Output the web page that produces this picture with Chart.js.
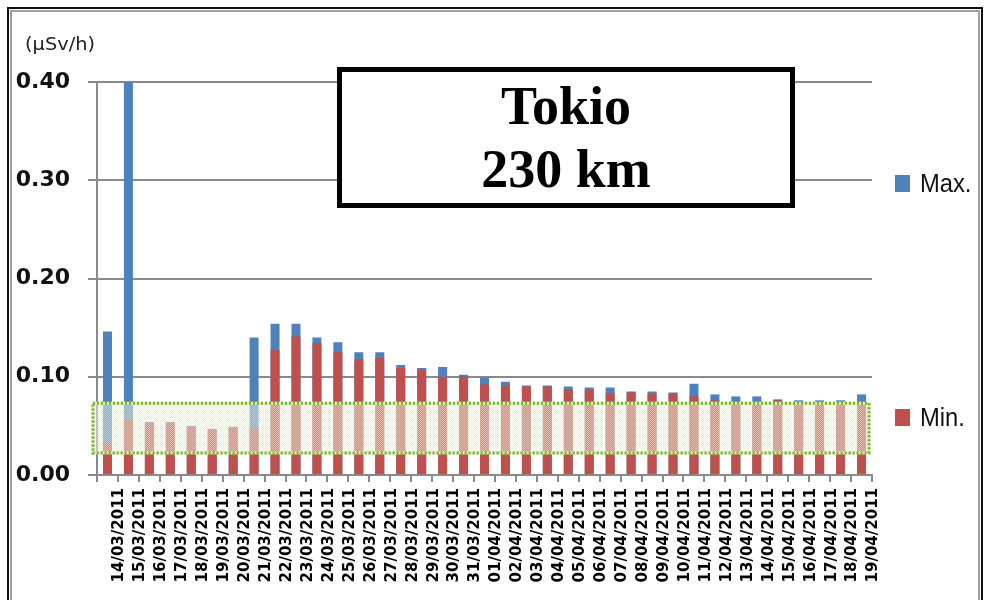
<!DOCTYPE html>
<html>
<head>
<meta charset="utf-8">
<script src="https://cdn.jsdelivr.net/npm/chart.js@4/dist/chart.umd.min.js"></script>
<style>
  html, body { margin: 0; padding: 0; background: #ffffff; }
  #wrap { position: relative; width: 986px; height: 600px; overflow: hidden; background: #ffffff; }
  #frame { position: absolute; left: 7px; top: 7px; width: 972px; height: 620px;
           border: 2px solid #111; border-bottom: none; }
  #frame2 { position: absolute; left: 10px; top: 10px; width: 966px; height: 620px;
            border: 2px solid #a0a0a0; border-bottom: none; }
  canvas { position: absolute; left: 0; top: 0; }
  #unit { position: absolute; left: 25px; top: 34px; font: 17px "DejaVu Sans", sans-serif; color: #222;
          transform: scaleX(1.14); transform-origin: left top; }
  #title { position: absolute; left: 337px; top: 67px; width: 448px;
           border: 5px solid #000; background: #fff; box-sizing: content-box;
           font: bold 54px "Liberation Serif", "Times New Roman", serif; color: #000;
           text-align: center; line-height: 63px; padding-top: 3px; height: 128px; }
  .leg { position: absolute; left: 895px; font: 25px "Liberation Sans", Arial, sans-serif; color: #111; }
  .leg i { position: absolute; left: 0; width: 15px; height: 17px; }
  .leg span { position: absolute; left: 25px; white-space: nowrap; transform: scaleX(0.95); transform-origin: left center; }
</style>
</head>
<body>
<div id="wrap">
  <div id="frame"></div>
  <div id="frame2"></div>
  <canvas id="c" width="986" height="600"></canvas>
  <div id="unit">(µSv/h)</div>
  <div id="title">Tokio<br>230 km</div>
  <div class="leg" style="top:175px"><i style="background:#4f81bd;top:0"></i><span style="top:-6px">Max.</span></div>
  <div class="leg" style="top:409px"><i style="background:#c0504d;top:0"></i><span style="top:-6px">Min.</span></div>
</div>
<script>
// Daily readings, 14 March – 19 April 2011
const dates = [
  "14/03/2011","15/03/2011","16/03/2011","17/03/2011","18/03/2011","19/03/2011",
  "20/03/2011","21/03/2011","22/03/2011","23/03/2011","24/03/2011","25/03/2011",
  "26/03/2011","27/03/2011","28/03/2011","29/03/2011","30/03/2011","31/03/2011",
  "01/04/2011","02/04/2011","03/04/2011","04/04/2011","05/04/2011","06/04/2011",
  "07/04/2011","08/04/2011","09/04/2011","10/04/2011","11/04/2011","12/04/2011",
  "13/04/2011","14/04/2011","15/04/2011","16/04/2011","17/04/2011","18/04/2011",
  "19/04/2011"
];

// Daily maximum dose rate (µSv/h)
const maxValues = [
  0.146, 0.400, 0.054, 0.054, 0.050, 0.047, 0.049, 0.140, 0.154, 0.154,
  0.140, 0.135, 0.125, 0.125, 0.112, 0.109, 0.110, 0.102, 0.099, 0.095,
  0.091, 0.091, 0.090, 0.089, 0.089, 0.085, 0.085, 0.084, 0.093, 0.082,
  0.080, 0.080, 0.077, 0.076, 0.076, 0.076, 0.082
];

// Daily minimum dose rate (µSv/h)
const minValues = [
  0.032, 0.057, 0.053, 0.053, 0.049, 0.046, 0.048, 0.047, 0.127, 0.141,
  0.134, 0.125, 0.118, 0.119, 0.109, 0.107, 0.100, 0.100, 0.092, 0.091,
  0.090, 0.090, 0.087, 0.087, 0.083, 0.084, 0.083, 0.083, 0.080, 0.076,
  0.074, 0.074, 0.076, 0.074, 0.074, 0.074, 0.074
];

// Usual background range before the accident (µSv/h)
const normalLow = 0.0225;
const normalHigh = 0.073;

const yTicks = [0, 0.10, 0.20, 0.30, 0.40];

const GRID = '#8a8a8a';

// Cross-hatched fill for the background-range band
function makeHatch() {
  const p = document.createElement('canvas');
  p.width = 2; p.height = 2;
  const g = p.getContext('2d');
  g.fillStyle = 'rgba(255,255,240,0.62)';
  g.fillRect(0, 0, 1, 1); g.fillRect(1, 1, 1, 1);
  g.fillStyle = 'rgba(205,222,195,0.45)';
  g.fillRect(1, 0, 1, 1); g.fillRect(0, 1, 1, 1);
  return p;
}

const bandPlugin = {
  id: 'normalBand',
  afterDatasetsDraw(chart) {
    const { ctx, chartArea, scales } = chart;
    const yTop = scales.y.getPixelForValue(normalHigh);
    const yBot = scales.y.getPixelForValue(normalLow);
    const x0 = chartArea.left - 4;
    const x1 = chartArea.right - 3;
    ctx.save();
    ctx.fillStyle = ctx.createPattern(makeHatch(), 'repeat');
    ctx.fillRect(x0, yTop, x1 - x0, yBot - yTop);
    ctx.lineWidth = 3;
    ctx.strokeStyle = '#e6efa6';
    ctx.strokeRect(x0, yTop, x1 - x0, yBot - yTop);
    ctx.setLineDash([2, 2]);
    ctx.strokeStyle = '#74b04c';
    ctx.strokeRect(x0, yTop, x1 - x0, yBot - yTop);
    ctx.restore();
  }
};

new Chart(document.getElementById('c'), {
  type: 'bar',
  data: {
    labels: dates,
    datasets: [
      { label: 'Max.', data: maxValues, backgroundColor: '#4f81bd', order: 2,
        grouped: false, categoryPercentage: 1, barPercentage: 0.43 },
      { label: 'Min.', data: minValues, backgroundColor: '#c0504d', order: 1,
        grouped: false, categoryPercentage: 1, barPercentage: 0.43 }
    ]
  },
  options: {
    responsive: false,
    animation: false,
    devicePixelRatio: 1,
    layout: { padding: { left: 14, right: 114, top: 82, bottom: 0 } },
    plugins: { legend: { display: false }, tooltip: { enabled: false } },
    scales: {
      x: {
        afterFit(s) { s.height = 125; },
        grid: { drawOnChartArea: false, drawTicks: true, tickLength: 7, color: GRID, lineWidth: 2, offset: true },
        border: { color: GRID, width: 2 },
        ticks: {
          autoSkip: false, minRotation: 90, maxRotation: 90, padding: 6, labelOffset: 12,
          color: '#000', font: { family: 'DejaVu Sans', size: 15, weight: 'bold' }
        }
      },
      y: {
        min: 0, max: 0.40,
        afterFit(s) { s.width = 83; },
        afterBuildTicks(s) { s.ticks = yTicks.map(v => ({ value: v })); },
        grid: { color: GRID, lineWidth: 2, tickLength: 9 },
        border: { color: GRID, width: 2 },
        ticks: {
          padding: 18, color: '#111',
          font: { family: 'DejaVu Sans', size: 22, weight: 'bold' },
          callback: v => v.toFixed(2)
        }
      }
    }
  },
  plugins: [bandPlugin]
});
</script>
</body>
</html>
